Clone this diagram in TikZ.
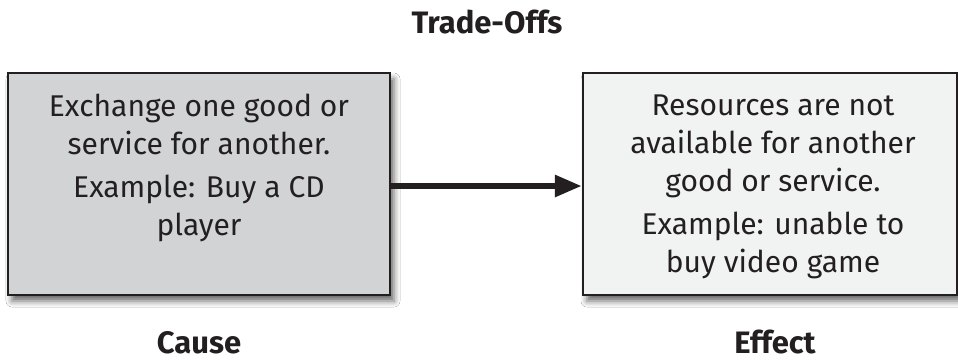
\documentclass[tikz,border=0pt]{standalone}
\usepackage{fontspec}
\setmainfont{Fira Sans}
\usetikzlibrary{shadows.blur,arrows.meta}
\definecolor{inkdark}{HTML}{231F20}
\definecolor{causefill}{HTML}{D1D3D4}
\definecolor{effectfill}{HTML}{F1F2F2}
\tikzset{
  x=1pt, y=-1pt,
  panel/.style={draw=inkdark, line width=2.5pt, inner sep=0pt,
    blur shadow={shadow xshift=4pt, shadow yshift=-6pt, shadow blur radius=6pt, shadow opacity=60}},
  bodytext/.style={text=inkdark, align=center, inner sep=0pt,
    font=\fontsize{30}{38}\selectfont},
  heading/.style={text=inkdark, inner sep=0pt, anchor=base,
    font=\fontsize{31}{36}\selectfont\bfseries},
  link/.style={draw=inkdark, line width=6pt, -{Triangle[length=27pt,width=21pt]}}
}
\begin{document}
\begin{tikzpicture}
\useasboundingbox (0,0) rectangle (958,360);
\fill[white] (0,0) rectangle (958,360);

% the two boxes
\node[panel, fill=causefill, minimum width=382pt, minimum height=222pt] (cause) at (199,184) {};
\node[panel, fill=effectfill, minimum width=374pt, minimum height=222pt] (effect) at (770,184) {};
\coordinate (linky) at (390,186);

% text inside the boxes (base anchor sits on the last line)
\node[bodytext, anchor=base] (causetxt) at (199,235)
  {Exchange one good or\\service for another.\\[5pt]Example: Buy a CD\\player};
\node[bodytext, anchor=base] (effecttxt) at (773,272)
  {Resources are not\\available for another\\good or service.\\[5pt]Example: unable to\\buy video game};

% connector
\draw[link] (cause.east |- linky) -- (effect.west |- linky);

% headings
\node[heading] (title) at (487,33) {Trade-Offs};
\node[heading] (causelabel) at (199,353) {Cause};
\node[heading] (effectlabel) at (775,353) {Effect};
\end{tikzpicture}
\end{document}
